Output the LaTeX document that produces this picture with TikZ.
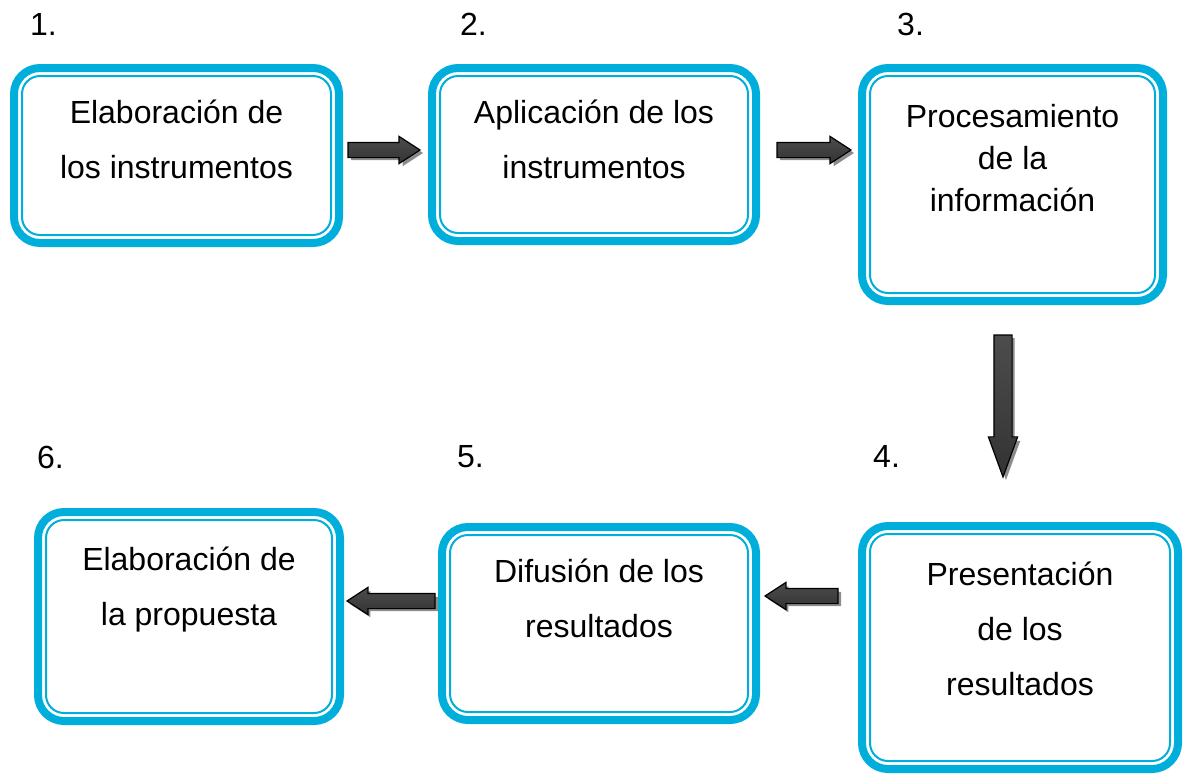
\documentclass[tikz,border=0pt]{standalone}
\usepackage{fontspec}
\setmainfont{Liberation Sans}
\usepackage{tikz}
\usetikzlibrary{positioning}
\usetikzlibrary{calc}
\usetikzlibrary{shapes.arrows}

\definecolor{boxblue}{RGB}{0,174,219}

\tikzset{
    procbox/.style={draw=boxblue, line width=8pt, rounded corners=26pt,
        inner sep=0pt, outer sep=0pt},
    innerline/.style={draw=boxblue, line width=2pt, rounded corners=18pt},
    boxtext/.style={align=center, inner sep=0pt, font=\fontsize{32}{55}\selectfont},
    stepnum/.style={anchor=base west, inner sep=0pt, font=\fontsize{32}{38}\selectfont},
    arrowshape/.style={single arrow, anchor=tail, inner xsep=0pt, inner ysep=7pt,
        outer sep=0pt, single arrow head extend=6pt, single arrow tip angle=66},
    blockarrow/.style={to path={
        let \p1=(\tikztostart), \p2=(\tikztotarget),
            \n1={atan2(\y2-\y1,\x2-\x1)}, \n2={veclen(\x2-\x1,\y2-\y1)} in
        node[arrowshape, #1, fill=black!45, rotate=\n1, minimum height=\n2]
            at ($(\p1)+(3,3)$) {}
        node[arrowshape, #1, draw=black, line width=1.2pt, rotate=\n1,
            minimum height=\n2, top color=black!70, middle color=black!95,
            bottom color=black!80]
            at (\p1) {}
    }},
    blockarrow/.default={},
}

\begin{document}
\begin{tikzpicture}[x=1pt, y=-1pt]
    \useasboundingbox (0,0) rectangle (1186,774);

    % the six stages
    \node[procbox, minimum width=325pt, minimum height=175pt] (b1) at (176.5,155.5) {};
    \node[procbox, minimum width=324pt, minimum height=173pt] (b2) at (594,154.5) {};
    \node[procbox, minimum width=301pt, minimum height=233pt] (b3) at (1012.5,184.5) {};
    \node[procbox, minimum width=316pt, minimum height=243pt] (b4) at (1020,647.5) {};
    \node[procbox, minimum width=314pt, minimum height=193pt] (b5) at (599,623.5) {};
    \node[procbox, minimum width=302pt, minimum height=209pt] (b6) at (189,616.5) {};

    \foreach \n in {b1,b2,b3,b4,b5,b6}
        \draw[innerline] ($(\n.north west)+(8,8)$) rectangle ($(\n.south east)+(-8,-8)$);

    \node[boxtext, below=31.5pt of b1.north] (t1) {Elaboración de\\los instrumentos};
    \node[boxtext, below=31.5pt of b2.north] (t2) {Aplicación de los\\instrumentos};
    \node[boxtext, below=36pt of b3.north, font=\fontsize{32}{42}\selectfont] (t3)
        {Procesamiento\\de la\\información};
    \node[boxtext, below=35.5pt of b4.north] (t4) {Presentación\\de los\\resultados};
    \node[boxtext, below=31.5pt of b5.north] (t5) {Difusión de los\\resultados};
    \node[boxtext, below=34.5pt of b6.north] (t6) {Elaboración de\\la propuesta};

    % step numbers
    \node[stepnum] (n1) at (30,35) {1.};
    \node[stepnum] (n2) at (460,35) {2.};
    \node[stepnum] (n3) at (897,35) {3.};
    \node[stepnum] (n4) at (873,467) {4.};
    \node[stepnum] (n5) at (457,467) {5.};
    \node[stepnum] (n6) at (37,468) {6.};

    % block arrows
    \path[blockarrow] ($(b1.east)+(9,-5.5)$) to ($(b1.east -| b2.west)+(-12,-5.5)$);
    \path[blockarrow] ($(b2.east)+(21,-4.5)$) to ($(b2.east -| b3.west)+(-11,-4.5)$);
    \path[blockarrow={inner ysep=8.5pt, single arrow head extend=5.5pt,
        single arrow tip angle=40}]
        ($(b3.south)+(-9.5,34)$) to ($(b3.south |- b4.north)+(-9.5,-49)$);
    \path[blockarrow] ($(b5.east -| b4.west)+(-24,-27.5)$) to ($(b5.east)+(9,-27.5)$);
    \path[blockarrow] ($(b5.west)+(-7,-22.5)$) to ($(b5.west -| b6.east)+(7,-22.5)$);
\end{tikzpicture}
\end{document}
